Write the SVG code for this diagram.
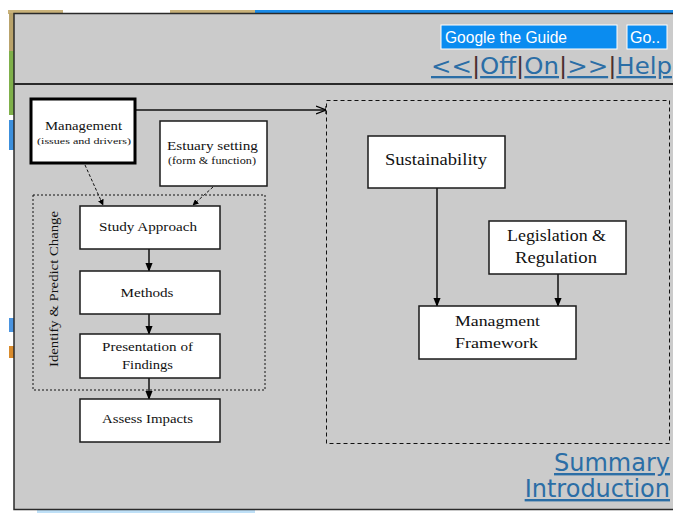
<svg xmlns="http://www.w3.org/2000/svg" width="673" height="513" viewBox="0 0 673 513">
  <style>
    .box { fill: #ffffff; stroke: #1a1a1a; stroke-width: 1.5; }
    .thick { fill: #ffffff; stroke: #000000; stroke-width: 3; }
    .t { font-family: "Liberation Serif", "Times New Roman", serif; fill: #111; text-anchor: middle; }
    .link { font-family: "DejaVu Sans", Verdana, sans-serif; fill: #2b6ea6; text-decoration: underline; }
    .sep { font-family: "DejaVu Sans", Verdana, sans-serif; fill: #4a2f2f; }
    .conn { stroke: #111; stroke-width: 1.5; fill: none; }
    .dotconn { stroke: #111; stroke-width: 1; fill: none; stroke-dasharray: 3 2; }
  </style>
  <defs>
    <marker id="tri" viewBox="0 0 10 10" refX="9" refY="5" markerWidth="6" markerHeight="6" orient="auto" markerUnits="userSpaceOnUse">
      <path d="M0,0 L10,5 L0,10 Z" fill="#000"/>
    </marker>
    <marker id="tri2" viewBox="0 0 10 10" refX="9" refY="5" markerWidth="9" markerHeight="9" orient="auto" markerUnits="userSpaceOnUse">
      <path d="M0,1 L10,5 L0,9 Z" fill="#000"/>
    </marker>
    <marker id="open" viewBox="0 0 10 10" refX="10" refY="5" markerWidth="10" markerHeight="10" orient="auto" markerUnits="userSpaceOnUse">
      <path d="M0,1 L10,5 L0,9 M10,1 L10,9" fill="none" stroke="#000" stroke-width="1.2"/>
    </marker>
  </defs>

  <!-- page background behind the frame -->
  <rect width="673" height="513" fill="#ffffff"/>
  <rect x="8" y="10" width="55" height="4" fill="#c9b27a"/>
  <rect x="170" y="10" width="85" height="4" fill="#c9b27a"/>
  <rect x="255" y="10" width="418" height="4" fill="#1a8be8"/>
  <rect x="9" y="13" width="5" height="38" fill="#b9a36b"/>
  <rect x="9" y="51" width="5" height="64" fill="#7fb04a"/>
  <rect x="9" y="120" width="5" height="30" fill="#3c8fdc"/>
  <rect x="9" y="318" width="5" height="14" fill="#4a94e0"/>
  <rect x="9" y="346" width="5" height="12" fill="#d98b2c"/>
  <rect x="37" y="510" width="218" height="3" fill="#bfe0f7"/>

  <!-- frame -->
  <rect x="14" y="13.5" width="662" height="496" fill="#cbcbcb" stroke="#2a2a2a" stroke-width="1.5"/>
  <line x1="14" y1="84" x2="673" y2="84" stroke="#2a2a2a" stroke-width="2"/>

  <!-- toolbar -->
  <g id="search">
    <rect x="441" y="25" width="176" height="24" fill="#0a8cf0" stroke="#ffffff" stroke-width="1"/>
    <text x="445" y="43" font-family="Liberation Sans, Arial, sans-serif" font-size="16" fill="#ffffff" textLength="122" lengthAdjust="spacingAndGlyphs">Google the Guide</text>
    <rect x="627" y="25" width="40" height="24" fill="#0a8cf0" stroke="#ffffff" stroke-width="1"/>
    <text x="630" y="43" font-family="Liberation Sans, Arial, sans-serif" font-size="16" fill="#ffffff">Go..</text>
  </g>
  <g id="nav">
    <text x="431" y="74" font-size="23" textLength="241" lengthAdjust="spacingAndGlyphs" xml:space="preserve"><tspan class="link">&lt;&lt;</tspan><tspan class="sep">|</tspan><tspan class="link">Off</tspan><tspan class="sep">|</tspan><tspan class="link">On</tspan><tspan class="sep">|</tspan><tspan class="link">&gt;&gt;</tspan><tspan class="sep">|</tspan><tspan class="link">Help</tspan></text>
  </g>

  <!-- grouping frames -->
  <g id="identify-predict">
    <rect x="33" y="195" width="232" height="195" fill="none" stroke="#111" stroke-width="1" stroke-dasharray="2 2"/>
    <text class="t" transform="translate(58,289) rotate(-90)" font-size="13" textLength="156" lengthAdjust="spacingAndGlyphs" font-family="Liberation Mono, Courier New, monospace">Identify &amp; Predict Change</text>
  </g>
  <g id="framework-area">
    <rect x="326.5" y="100.5" width="343" height="343" fill="none" stroke="#111" stroke-width="1" stroke-dasharray="4 3"/>
  </g>

  <!-- connectors -->
  <g id="connectors">
    <line class="conn" x1="135" y1="110" x2="326" y2="110" stroke-width="1" marker-end="url(#open)"/>
    <line class="dotconn" x1="85" y1="165" x2="103" y2="205" marker-end="url(#tri)"/>
    <line class="dotconn" x1="213" y1="187" x2="193" y2="205" marker-end="url(#tri)"/>
    <line class="conn" x1="149" y1="249" x2="149" y2="271" marker-end="url(#tri2)"/>
    <line class="conn" x1="149" y1="314" x2="149" y2="334" marker-end="url(#tri2)"/>
    <line class="conn" x1="149" y1="378" x2="149" y2="399" marker-end="url(#tri2)"/>
    <line class="conn" x1="437" y1="188" x2="437" y2="306" marker-end="url(#tri2)"/>
    <line class="conn" x1="558" y1="274" x2="558" y2="306" marker-end="url(#tri2)"/>
  </g>

  <!-- nodes -->
  <g id="management">
    <rect class="thick" x="31" y="99" width="104" height="64"/>
    <text class="t" x="83.5" y="130" font-size="13" textLength="77" lengthAdjust="spacingAndGlyphs">Management</text>
    <text class="t" x="84" y="144" font-size="9" textLength="94" lengthAdjust="spacingAndGlyphs">(issues  and drivers)</text>
  </g>
  <g id="estuary-setting">
    <rect class="box" x="160" y="121" width="107" height="65"/>
    <text class="t" x="212.5" y="150" font-size="13" textLength="91" lengthAdjust="spacingAndGlyphs">Estuary setting</text>
    <text class="t" x="212" y="164" font-size="10" textLength="88" lengthAdjust="spacingAndGlyphs">(form &amp; function)</text>
  </g>
  <g id="study-approach">
    <rect class="box" x="80" y="206" width="140" height="43"/>
    <text class="t" x="148" y="231" font-size="13" textLength="98" lengthAdjust="spacingAndGlyphs">Study Approach</text>
  </g>
  <g id="methods">
    <rect class="box" x="80" y="271" width="140" height="43"/>
    <text class="t" x="147" y="297" font-size="13.5" textLength="53" lengthAdjust="spacingAndGlyphs">Methods</text>
  </g>
  <g id="presentation">
    <rect class="box" x="80" y="334" width="140" height="44"/>
    <text class="t" x="147.5" y="351" font-size="13" textLength="91" lengthAdjust="spacingAndGlyphs">Presentation of</text>
    <text class="t" x="147.5" y="369" font-size="13" textLength="51" lengthAdjust="spacingAndGlyphs">Findings</text>
  </g>
  <g id="assess-impacts">
    <rect class="box" x="80" y="399" width="140" height="43"/>
    <text class="t" x="147.5" y="423" font-size="13" textLength="91" lengthAdjust="spacingAndGlyphs">Assess Impacts</text>
  </g>
  <g id="sustainability">
    <rect class="box" x="368" y="136" width="137" height="52"/>
    <text class="t" x="436" y="165" font-size="16" textLength="102" lengthAdjust="spacingAndGlyphs">Sustainability</text>
  </g>
  <g id="legislation">
    <rect class="box" x="489" y="221" width="137" height="53"/>
    <text class="t" x="556.5" y="241" font-size="16" textLength="99" lengthAdjust="spacingAndGlyphs">Legislation &amp;</text>
    <text class="t" x="556" y="263" font-size="16" textLength="82" lengthAdjust="spacingAndGlyphs">Regulation</text>
  </g>
  <g id="managment-framework">
    <rect class="box" x="419" y="306" width="157" height="53"/>
    <text class="t" x="497.5" y="326" font-size="15" textLength="85" lengthAdjust="spacingAndGlyphs">Managment</text>
    <text class="t" x="496.5" y="348" font-size="15" textLength="83" lengthAdjust="spacingAndGlyphs">Framework</text>
  </g>

  <!-- footer links -->
  <g id="footer-links">
    <text class="link" x="670" y="471" font-size="24" text-anchor="end">Summary</text>
    <text class="link" x="670" y="497" font-size="24" text-anchor="end">Introduction</text>
  </g>
</svg>
